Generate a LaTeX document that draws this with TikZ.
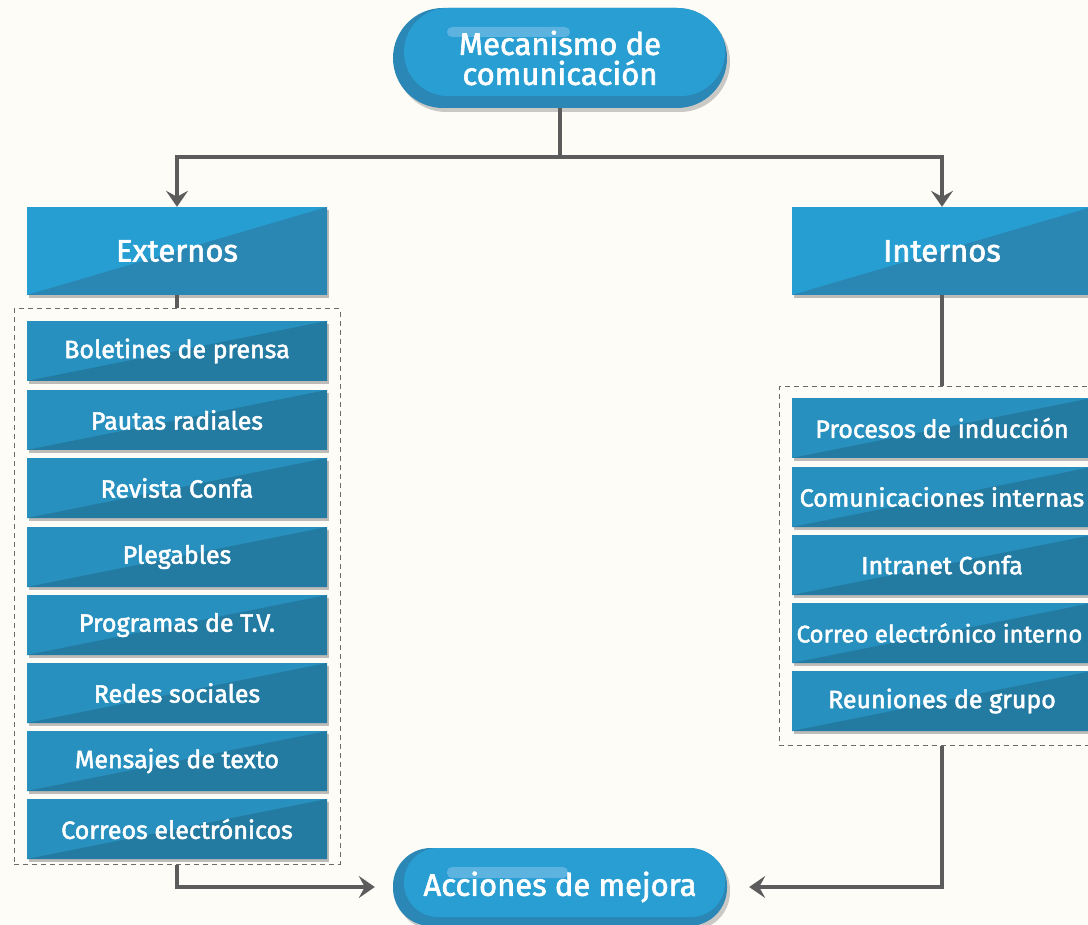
\documentclass[tikz,border=0pt]{standalone}
\usepackage{fontspec}
\setmainfont{Fira Sans}
\newfontfamily\medfont{Fira Sans}[UprightFeatures={FakeBold=2}]
\usetikzlibrary{shadows,arrows.meta}
\definecolor{bg}{HTML}{FDFCF7}
\definecolor{hlight}{HTML}{279ED2}
\definecolor{hdark}{HTML}{2A86B2}
\definecolor{ilight}{HTML}{2790BE}
\definecolor{idark}{HTML}{237BA2}
\definecolor{pdark}{HTML}{2B87B5}
\definecolor{plight}{HTML}{299ED3}
\definecolor{phi}{HTML}{5DB3E0}
\definecolor{conn}{HTML}{5C5C5C}
\definecolor{dash}{HTML}{6A6A6A}
\tikzset{
  twotone/.style 2 args={path picture={
      \fill[#1] (path picture bounding box.north west) rectangle (path picture bounding box.south east);
      \fill[#2] (path picture bounding box.south west) -- (path picture bounding box.north east) -- (path picture bounding box.south east) -- cycle;}},
  boxshadow/.style={drop shadow={opacity=0.25, shadow xshift=2pt, shadow yshift=-3pt, fill=black}},
  headbox/.style={rectangle, minimum width=300pt, minimum height=88pt, inner sep=0pt, text=white,
      font=\medfont\fontsize{31}{33}\selectfont, twotone={hlight}{hdark}, boxshadow},
  itembox/.style={rectangle, minimum width=300pt, minimum height=60pt, inner sep=0pt, text=white,
      font=\medfont\fontsize{25}{27}\selectfont, twotone={ilight}{idark}, boxshadow},
  dashbox/.style={rectangle, draw=dash, line width=1pt, dash pattern=on 5pt off 4pt, inner sep=0pt},
  pill/.style={rectangle, rounded corners=#1, fill=pdark, inner sep=0pt, text=white,
      drop shadow={opacity=0.2, shadow xshift=3pt, shadow yshift=-4pt, fill=black}},
  line/.style={draw=conn, line width=3.5pt},
  arr/.style={line, -{Stealth[length=16pt, width=22pt, inset=6pt]}},
}
\begin{document}
\begin{tikzpicture}[x=1pt,y=-1pt]
\useasboundingbox (0,0) rectangle (1088,925);
\clip (0,0) rectangle (1088,925);
\fill[bg] (0,0) rectangle (1088,925);

% top pill
\node[pill=50pt, minimum width=334pt, minimum height=100pt, align=center,
  font=\medfont\fontsize{31}{30}\selectfont,
  path picture={
    \fill[plight, rounded corners=44pt] ([xshift=11pt]path picture bounding box.north west) rectangle ([xshift=-2pt,yshift=12pt]path picture bounding box.south east);
    \fill[phi, rounded corners=5pt] ([xshift=-113pt,yshift=31pt]path picture bounding box.center) rectangle ([xshift=10pt,yshift=21pt]path picture bounding box.center);
  }] (mec) at (560,58) {Mecanismo de\\comunicación};

% bottom pill
\node[pill=38pt, minimum width=334pt, minimum height=78pt,
  font=\medfont\fontsize{31}{33}\selectfont,
  path picture={
    \fill[plight, rounded corners=34pt] ([xshift=11pt]path picture bounding box.north west) rectangle ([xshift=-2pt,yshift=9pt]path picture bounding box.south east);
    \fill[phi, rounded corners=5pt] ([xshift=-113pt,yshift=20pt]path picture bounding box.center) rectangle ([xshift=8pt,yshift=9pt]path picture bounding box.center);
  }] (acc) at (560,887) {\raisebox{4pt}{Acciones de mejora}};

% headers
\node[headbox] (ext) at (177,251) {Externos};
\node[headbox] (int) at (942,251) {Internos};

% dashed groups
\node[dashbox, minimum width=326pt, minimum height=555pt] (dl) at (177,586.5) {};
\node[dashbox, minimum width=326pt, minimum height=358pt] (dr) at (942,566) {};

% left items
\node[itembox] (l1) at (177,351) {Boletines de prensa};
\node[itembox] (l2) at (177,420) {Pautas radiales};
\node[itembox] (l3) at (177,488) {Revista Confa};
\node[itembox] (l4) at (177,557) {Plegables};
\node[itembox] (l5) at (177,625) {Programas de T.V.};
\node[itembox] (l6) at (177,693) {Redes sociales};
\node[itembox] (l7) at (177,761) {Mensajes de texto};
\node[itembox] (l8) at (177,829) {Correos electrónicos};

% right items
\node[itembox] (r1) at (942,428) {Procesos de inducción};
\node[itembox] (r2) at (942,497) {Comunicaciones internas};
\node[itembox] (r3) at (942,565) {Intranet Confa};
\node[itembox, font=\medfont\fontsize{24}{26}\selectfont] (r4) at (942,633) {\hspace*{-5pt}Correo electrónico interno};
\node[itembox] (r5) at (942,701) {Reuniones de grupo};

% connectors
\coordinate (jn) at (560,157);
\draw[line] (mec.south) -- (jn);
\draw[arr] (jn) -| (ext.north);
\draw[arr] (jn) -| (int.north);
\draw[line] (ext.south) -- (dl.north);
\draw[line] (int.south) -- (dr.north);
\draw[arr] (dl.south) |- ([xshift=-18pt]acc.west);
\draw[arr] (dr.south) |- ([xshift=22pt]acc.east);
\end{tikzpicture}
\end{document}
